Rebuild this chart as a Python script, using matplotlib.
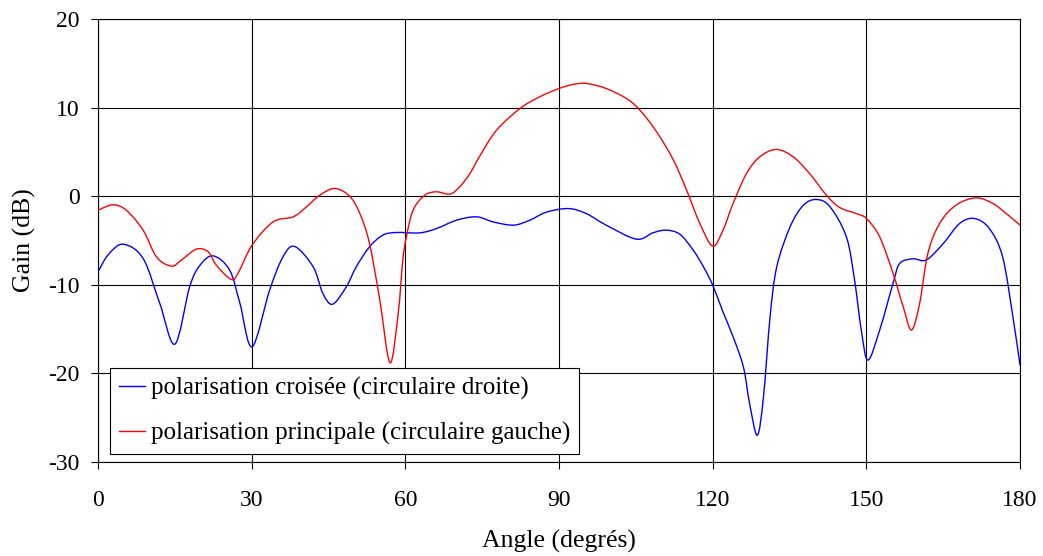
import matplotlib.pyplot as plt
from matplotlib.path import Path
from matplotlib.patches import PathPatch
from matplotlib.lines import Line2D

# values (angle in degrees, gain in dB)
angle_cross = [0, 2, 4.9, 8.8, 12.05, 15.0, 17.9, 19.9, 22.5, 25.7, 27.7, 30.07,
               33.5, 36.1, 38.4, 42.0, 43.9, 45.8, 48.5, 50.4, 53.0, 55.6, 58.2,
               62.8, 66.1, 70.0, 73.9, 77.1, 81.1, 84.3, 87.5, 91.8, 95.3, 99.2,
               105.1, 108.3, 110.9, 113.6, 116.2, 118.2, 120.0, 122.0, 124.0,
               126.0, 127.2, 128.7, 129.9, 131.2, 132.5, 135.1, 137.7, 140.3,
               142.9, 146.1, 147.7, 149.0, 150.3, 152.6, 155.2, 156.5, 159.1,
               161.7, 165.0, 168.2, 171.1, 174.0, 176.6, 178.6, 180]
gain_cross = [-8.54, -6.6, -5.42, -7.03, -12.1, -16.7, -10.2, -7.8, -6.74, -8.35,
              -12.1, -17.0, -10.6, -6.85, -5.68, -7.98, -10.99, -12.19, -10.2,
              -7.98, -5.72, -4.4, -4.1, -4.14, -3.65, -2.71, -2.33, -2.9, -3.27,
              -2.71, -1.81, -1.4, -1.96, -3.27, -4.85, -4.14, -3.84, -4.3, -6.1,
              -7.98, -10.05, -13.06, -15.9, -19.3, -23.4, -26.97, -22.7, -13.6,
              -7.98, -3.47, -1.02, -0.38, -1.2, -4.6, -9.5, -15.1, -18.5, -15.1,
              -9.85, -7.6, -7.07, -7.2, -5.35, -3.08, -2.52, -3.65, -6.85, -13.6,
              -19.1]

angle_main = [0, 2.9, 5.5, 8.8, 11.4, 14.3, 16.3, 19.2, 21.5, 23.1, 26.0, 27.3,
              30.07, 34.2, 38.1, 40.7, 43.3, 46.2, 49.1, 51.1, 53.0, 55.0, 57.0,
              58.6, 59.5, 60.2, 61.5, 63.8, 66.1, 68.7, 70.6, 72.6, 74.6, 77.8,
              82.4, 86.2, 90.0, 92.7, 95.3, 99.2, 103.2, 105.8, 109.0, 112.3,
              114.9, 117.5, 120.0, 122.0, 124.0, 126.6, 129.2, 132.4, 135.7,
              138.9, 142.2, 144.8, 148.0, 150.0, 152.6, 155.2, 157.2, 158.8,
              160.4, 162.0, 164.3, 167.5, 171.4, 174.7, 177.3, 180]
gain_main = [-1.58, -0.98, -1.58, -3.84, -6.85, -7.9, -7.2, -5.98, -6.28, -7.8,
             -9.4, -8.73, -5.53, -2.9, -2.33, -1.2, 0.11, 0.87, 0.0, -1.95, -5.35,
             -11.7, -18.8, -13.2, -7.2, -4.6, -1.58, 0.11, 0.49, 0.23, 1.05, 2.55,
             4.6, 7.45, 9.9, 11.2, 12.15, 12.6, 12.72, 12.15, 11.0, 9.7, 7.3, 4.1,
             0.68, -3.1, -5.64, -3.84, -0.79, 2.56, 4.44, 5.27, 4.44, 2.56, 0.11,
             -1.28, -1.96, -2.52, -4.6, -8.7, -12.5, -15.1, -12.1, -6.47, -3.08,
             -1.02, -0.19, -0.83, -1.96, -3.27]

labels = ['polarisation croisée (circulaire droite)',
          'polarisation principale (circulaire gauche)']
colors = ['#0000FF', '#FF0000']

x_ticks = [0, 30, 60, 90, 120, 150, 180]
y_ticks = [-30, -20, -10, 0, 10, 20]


def smooth_path(xs, ys):
    # Excel-like smoothed line: Catmull-Rom segments as cubic Beziers
    pts = list(zip(xs, ys))
    n = len(pts)
    verts = [pts[0]]
    codes = [Path.MOVETO]
    for i in range(n - 1):
        p0 = pts[i - 1] if i > 0 else pts[i]
        p1 = pts[i]
        p2 = pts[i + 1]
        p3 = pts[i + 2] if i + 2 < n else pts[i + 1]
        c1 = (p1[0] + (p2[0] - p0[0]) / 6, p1[1] + (p2[1] - p0[1]) / 6)
        c2 = (p2[0] - (p3[0] - p1[0]) / 6, p2[1] - (p3[1] - p1[1]) / 6)
        verts += [c1, c2, p2]
        codes += [Path.CURVE4] * 3
    return Path(verts, codes)


plt.rcParams['font.family'] = ['Liberation Serif', 'DejaVu Serif']
plt.rcParams['axes.unicode_minus'] = False

fig = plt.figure(figsize=(10.43, 5.56), dpi=100)
ax = fig.add_axes([0.094, 0.169, 0.884, 0.797])

for xs, ys, c in [(angle_cross, gain_cross, colors[0]),
                  (angle_main, gain_main, colors[1])]:
    ax.add_patch(PathPatch(smooth_path(xs, ys), fill=False, edgecolor=c,
                           linewidth=1.0, zorder=3))

ax.set_xlim(0, 180)
ax.set_ylim(-30, 20)
ax.set_xticks(x_ticks)
ax.set_yticks(y_ticks)
ax.grid(True, color='black', linewidth=0.8)
ax.set_axisbelow(True)
for s in ax.spines.values():
    s.set_color('black')
    s.set_linewidth(0.8)
ax.tick_params(axis='both', direction='out', length=5, width=0.8, labelsize=17)
ax.tick_params(axis='x', pad=15)
ax.tick_params(axis='y', pad=8)

ax.set_xlabel('Angle (degrés)', fontsize=18.5, labelpad=14)
ax.set_ylabel('Gain (dB)', fontsize=18.5, labelpad=9)

handles = [Line2D([], [], color=c, linewidth=1.0) for c in colors]
leg = ax.legend(handles, labels, loc='lower left', bbox_to_anchor=(0.013, 0.018),
                borderaxespad=0, fontsize=18, fancybox=False, framealpha=1,
                edgecolor='black', handlelength=1.05, handletextpad=0.25,
                borderpad=0.35, labelspacing=0.88)
leg.get_frame().set_linewidth(0.8)

fig.savefig('out.png', dpi=100)
